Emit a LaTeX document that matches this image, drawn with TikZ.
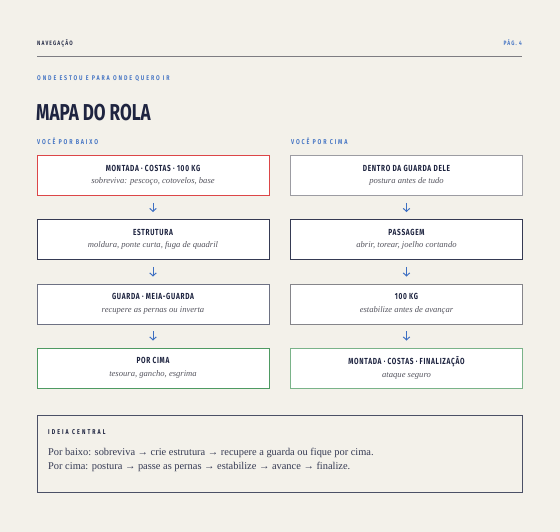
\documentclass[tikz,border=0pt]{standalone}
\usepackage{fontspec}
\setmainfont{Liberation Serif}
\newfontfamily\headfont[FakeStretch=0.74]{Fira Sans Bold}
\newfontfamily\labelfont[FakeStretch=0.78]{Fira Sans SemiBold}
\usepackage{tikz}
\usetikzlibrary{arrows.meta}

\definecolor{paper}{HTML}{F3F1EA}
\definecolor{ink}{HTML}{1E2440}
\definecolor{accent}{HTML}{3D6FC2}
\definecolor{dangerline}{RGB}{220,70,72}
\definecolor{greenline}{HTML}{4E9A62}
\definecolor{grayline}{HTML}{9C9CA2}
\definecolor{subtext}{HTML}{55555F}

\newcommand{\boxtitle}[1]{{\headfont\fontsize{8.8}{9}\selectfont\addfontfeatures{LetterSpace=8}\color{ink}#1}}
\newcommand{\boxnote}[1]{{\fontsize{8.6}{9}\selectfont\itshape\color{subtext}#1}}

\begin{document}
\begin{tikzpicture}[x=1pt, y=-1pt,
  stepBox/.style={draw, line width=0.9pt, fill=white, minimum width=232pt, minimum height=40pt, align=center, inner sep=0pt},
  flowArrow/.style={accent, line width=1pt, -{Straight Barb[length=3pt, width=6.5pt]}, shorten <=7pt, shorten >=7pt},
  capsLabel/.style={anchor=base west, inner sep=0pt, font=\labelfont\fontsize{6.3}{7}\selectfont\addfontfeatures{LetterSpace=18}}
]
\useasboundingbox [fill=paper] (0,0) rectangle (560,532);

% cabecalho
\node [capsLabel, text=ink]                 (nav)   at (37, 46) {NAVEGAÇÃO};
\node [capsLabel, text=accent, anchor=base east] (page) at (522, 46) {PÁG. 4};
\draw [grayline!80!black, line width=0.8pt] (37, 56.5) -- (522, 56.5);
\node [capsLabel, text=accent, font=\labelfont\fontsize{6.8}{7}\selectfont\addfontfeatures{LetterSpace=28}] (kicker) at (37, 81) {ONDE ESTOU E PARA ONDE QUERO IR};
\node [anchor=base west, inner sep=0pt, text=ink, font=\headfont\fontsize{23}{24}\selectfont] (title) at (36, 121) {MAPA DO ROLA};

% colunas
\node [capsLabel, text=accent, font=\labelfont\fontsize{7}{8}\selectfont\addfontfeatures{LetterSpace=26}] (lowHead)  at (37, 145)  {VOCÊ POR BAIXO};
\node [capsLabel, text=accent, font=\labelfont\fontsize{7}{8}\selectfont\addfontfeatures{LetterSpace=26}] (highHead) at (291, 145) {VOCÊ POR CIMA};

\node [stepBox, draw=dangerline, line width=1pt] (low1) at (153, 175.5)   {\boxtitle{MONTADA · COSTAS · 100 KG}\\[0.5pt]\boxnote{sobreviva: pescoço, cotovelos, base}};
\node [stepBox, draw=ink!90]    (low2) at (153, 239.5)   {\boxtitle{ESTRUTURA}\\[0.5pt]\boxnote{moldura, ponte curta, fuga de quadril}};
\node [stepBox, draw=ink!65]    (low3) at (153, 304) {\boxtitle{GUARDA · MEIA-GUARDA}\\[0.5pt]\boxnote{recupere as pernas ou inverta}};
\node [stepBox, draw=greenline] (low4) at (153, 368) {\boxtitle{POR CIMA}\\[0.5pt]\boxnote{tesoura, gancho, esgrima}};

\node [stepBox, draw=grayline]  (high1) at (406.5, 175.5)   {\boxtitle{DENTRO DA GUARDA DELE}\\[0.5pt]\boxnote{postura antes de tudo}};
\node [stepBox, draw=ink!90]    (high2) at (406.5, 239.5)   {\boxtitle{PASSAGEM}\\[0.5pt]\boxnote{abrir, torear, joelho cortando}};
\node [stepBox, draw=grayline!85!black] (high3) at (406.5, 304) {\boxtitle{100 KG}\\[0.5pt]\boxnote{estabilize antes de avançar}};
\node [stepBox, draw=greenline!75] (high4) at (406.5, 368) {\boxtitle{MONTADA · COSTAS · FINALIZAÇÃO}\\[0.5pt]\boxnote{ataque seguro}};

\foreach \a/\b in {low1/low2, low2/low3, low3/low4, high1/high2, high2/high3, high3/high4}
  \draw [flowArrow] (\a) -- (\b);

% ideia central
\node [draw=ink!80, line width=0.9pt, minimum width=485pt, minimum height=77pt, inner sep=0pt] (core) at (279.5, 453.5) {};
\node [capsLabel, text=ink, font=\headfont\fontsize{7}{8}\selectfont\addfontfeatures{LetterSpace=30}] (coreHead) at (48, 434) {IDEIA CENTRAL};
\node [anchor=base west, inner sep=0pt, text=ink!90, font=\fontsize{10.4}{14}\selectfont] (coreLow) at (48, 455.5)
  {Por baixo: sobreviva → crie estrutura → recupere a guarda ou fique por cima.};
\node [anchor=base west, inner sep=0pt, text=ink!90, font=\fontsize{10.4}{14}\selectfont] (coreHigh) at (48, 469.5)
  {Por cima: postura → passe as pernas → estabilize → avance → finalize.};
\end{tikzpicture}
\end{document}
